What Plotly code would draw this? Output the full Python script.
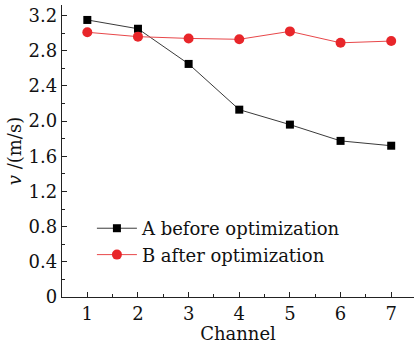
import plotly.graph_objects as go

channels = [1, 2, 3, 4, 5, 6, 7]
before_opt = [3.15, 3.05, 2.65, 2.13, 1.96, 1.775, 1.72]
after_opt = [3.01, 2.96, 2.94, 2.93, 3.02, 2.89, 2.91]
y_ticks = [0, 0.4, 0.8, 1.2, 1.6, 2.0, 2.4, 2.8, 3.2]
y_tick_labels = ["0", "0.4", "0.8", "1.2", "1.6", "2.0", "2.4", "2.8", "3.2"]

font_family = "DejaVu Serif, serif"

fig = go.Figure()
fig.add_trace(go.Scatter(
    x=channels, y=before_opt, mode="lines+markers", name="A before optimization",
    line=dict(color="#3a3a3a", width=1),
    marker=dict(symbol="square", size=8, color="#000000"),
))
fig.add_trace(go.Scatter(
    x=channels, y=after_opt, mode="lines+markers", name="B after optimization",
    line=dict(color="#e8474a", width=1),
    marker=dict(symbol="circle", size=10, color="#e8262a"),
))

fig.update_layout(
    width=414, height=344,
    margin=dict(l=62, r=0, t=5, b=47),
    paper_bgcolor="white", plot_bgcolor="white",
    font=dict(family=font_family, color="#111111", size=18),
    showlegend=True,
    legend=dict(x=0.085, y=0.19, xanchor="left", yanchor="middle",
                bgcolor="rgba(0,0,0,0)", font=dict(size=18, family=font_family),
                itemwidth=40, tracegroupgap=0),
    xaxis=dict(
        range=[0.5, 7.45], tickvals=channels, showgrid=False, zeroline=False,
        showline=True, linecolor="#222", linewidth=1.3,
        ticks="inside", ticklen=5, tickcolor="#222",
        minor=dict(ticks="inside", ticklen=3, dtick=0.5, tickcolor="#222", showgrid=False),
        title=dict(text="Channel", font=dict(size=18), standoff=0),
        tickfont=dict(size=18),
    ),
    yaxis=dict(
        range=[0, 3.32], tickvals=y_ticks, ticktext=y_tick_labels,
        showgrid=False, zeroline=False,
        showline=True, linecolor="#222", linewidth=1.3,
        ticks="inside", ticklen=5, tickcolor="#222",
        minor=dict(ticks="inside", ticklen=3, dtick=0.2, tickcolor="#222", showgrid=False),
        title=dict(text="<i>v</i> /(m/s)", font=dict(size=18), standoff=2),
        tickfont=dict(size=18),
    ),
)

fig.write_html("out.html")
